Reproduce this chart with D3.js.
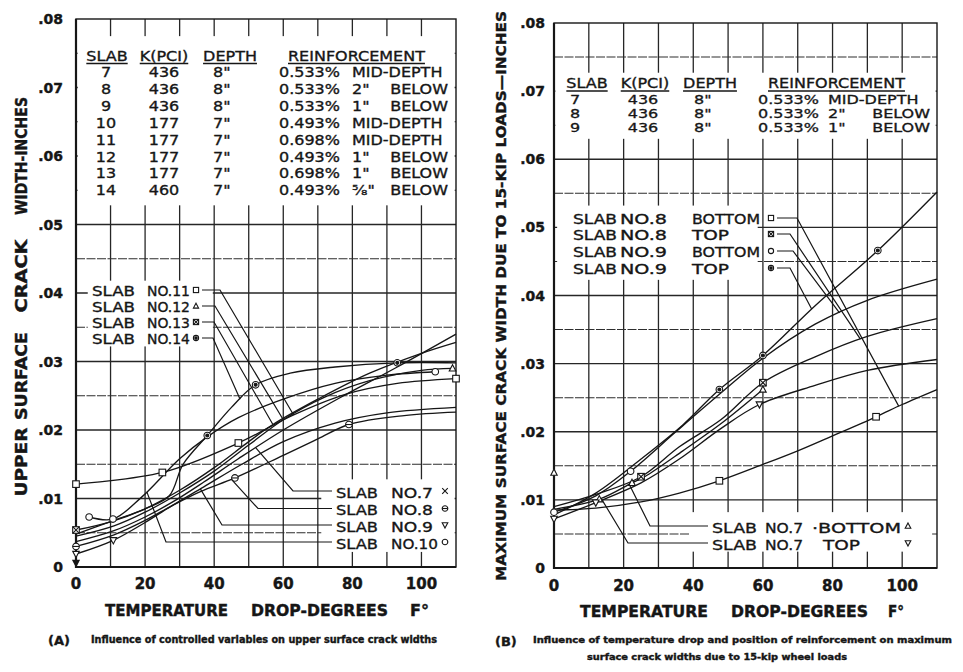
<!DOCTYPE html>
<html><head><meta charset="utf-8">
<script src="https://cdn.jsdelivr.net/npm/d3@7"></script>
<style>
body{margin:0;background:#fff;}
svg text{font-family:"DejaVu Sans",sans-serif;fill:#161616;stroke:#161616;stroke-width:0.4px;}
</style></head><body>
<svg id="fig" width="963" height="672"></svg>
<script>
// ---------------- data ----------------
const tempTicks = [0, 20, 40, 60, 80, 100];
const widthTicks = [0, 0.01, 0.02, 0.03, 0.04, 0.05, 0.06, 0.07, 0.08];
const widthTickLabels = ["0", ".01", ".02", ".03", ".04", ".05", ".06", ".07", ".08"];

// slab properties table
const tableHeader = ["SLAB", "K(PCI)", "DEPTH", "REINFORCEMENT"];
const tableSlab = ["7", "8", "9", "10", "11", "12", "13", "14"];
const tableK = ["436", "436", "436", "177", "177", "177", "177", "460"];
const tableDepth = ['8"', '8"', '8"', '7"', '7"', '7"', '7"', '7"'];
const tablePct = ["0.533%", "0.533%", "0.533%", "0.493%", "0.698%", "0.493%", "0.698%", "0.493%"];
const tablePosA = ["MID-DEPTH", '2"', '1"', "MID-DEPTH", "MID-DEPTH", '1"', '1"', '\u2075\u2044\u2088"'];
const tablePosB = ["", "BELOW", "BELOW", "", "", "BELOW", "BELOW", "BELOW"];

// (A) upper surface crack width vs temperature drop  [temp F, width in]
const upper7  = [[0,.0037],[11,.0053],[20,.0073],[28,.0095],[37,.0124],[47,.0158],[60,.0200],[76,.0246],[93,.0292],[110,.0340]];
const upper8  = [[0,.0030],[11,.0047],[20,.0068],[28,.0090],[36,.0110],[46,.0130],[60,.0163],[70,.0187],[79,.0208],[95,.0221],[110,.0226]];
const upper9  = [[0,.0019],[10.8,.0039],[20,.0065],[27,.0087],[37,.0117],[48,.0150],[60,.0183],[75,.0210],[90,.0225],[110,.0233]];
const upper10 = [[3.8,.0073],[10.7,.0070],[19,.0102],[30,.0158],[38,.0190],[47,.0218],[60,.0245],[75,.0268],[90,.0280],[104,.0285]];
const upper11 = [[0,.0121],[25,.0138],[47,.0181],[63,.0222],[78,.0252],[93,.0268],[110,.0275]];
const upper12 = [[0,.0045],[11,.0060],[20,.0080],[30,.0108],[40,.0140],[50,.0178],[60,.0215],[72,.0248],[85,.0272],[100,.0287],[109,.0290]];
const upper13 = [[0,.0054],[10,.0066],[20,.0085],[30,.0112],[40,.0145],[50,.0183],[57,.0208],[70,.0245],[85,.0283],[100,.0312],[110,.0328]];
const upper14 = [[0,.0048],[11,.0068],[20,.0085],[27,.0104],[31,.0150],[38,.0192],[45,.0233],[52,.0266],[62,.0283],[75,.0292],[93,.0298],[110,.0298]];
const upperMarks7 = [], upperMarks8 = [0, 46, 79], upperMarks9 = [0, 10.8], upperMarks10 = [3.8, 10.7, 104];
const upperMarks11 = [0, 25, 47, 110], upperMarks12 = [109], upperMarks13 = [0], upperMarks14 = [38, 52, 93];
const upperExtra = [[0, .0006]];   // isolated reading, slab 9

// (B) maximum surface crack width under 15-kip loads
const max7Bottom = [[0,.0086],[13,.0101],[22.4,.0125],[26,.0134],[37,.0172],[48,.0212],[60,.0262]];
const max7Top    = [[0,.0072],[12,.0096],[25,.0125],[36,.0160],[48,.0205],[59,.0240],[75,.0268],[90,.0290],[110,.0306]];
const max8Bottom = [[0,.0085],[12,.0088],[25,.0097],[36,.0110],[47.5,.0128],[60,.0152],[70,.0172],[80,.0194],[92.5,.0222],[100,.0240],[110,.0262]];
const max8Top    = [[0,.0090],[12,.0108],[25,.0134],[36,.0178],[48,.0218],[60,.0272],[75,.0310],[90,.0340],[110,.0366]];
const max9Bottom = [[0,.0082],[12,.0106],[22,.0142],[35,.0200],[47.5,.0255],[60,.0308],[75,.0358],[90,.0393],[110,.0424]];
const max9Top    = [[0,.0078],[12,.0110],[25,.0160],[37,.0210],[47.5,.0262],[60,.0312],[75,.0385],[93,.0466],[110,.0552]];
const maxMarks7Bottom = [13, 22.4, 60], maxMarks7Top = [0, 12, 59], maxMarks8Bottom = [47.5, 92.5];
const maxMarks8Top = [25, 60], maxMarks9Bottom = [0, 22], maxMarks9Top = [47.5, 60, 93];
const maxExtra = [[0, .0140]];     // isolated reading, slab 7 bottom

// leader targets (temperature at which each label's leader meets its curve)
const upperLeadTempsA = [63, 60, 57, 47.5];   // slabs 11-14
const upperLeadTempsB = [52, 45, 36, 20.5];   // slabs 7-10
const maxLeadTempsA = [99, 88, 82, 74];       // 8 bottom, 8 top, 9 bottom, 9 top
const maxLeadTempsB = [21.6, 13.8];           // 7 bottom, 7 top

// ---------------- drawing ----------------
const svg = d3.select("#fig");
const ink = "#161616";

function interp(pts, t) {
  for (let i = 0; i < pts.length - 1; i++) {
    const [x0, y0] = pts[i], [x1, y1] = pts[i + 1];
    if (t >= x0 && t <= x1) return y0 + (y1 - y0) * (t - x0) / (x1 - x0);
  }
  return pts[pts.length - 1][1];
}

function drawMarker(g, type, cx, cy, r) {
  const m = g.append("g").attr("transform", `translate(${cx},${cy})`)
    .attr("fill", "#fff").attr("stroke", ink).attr("stroke-width", 1.1);
  if (type === "square" || type === "xsquare") {
    m.append("rect").attr("x", -r).attr("y", -r).attr("width", 2 * r).attr("height", 2 * r);
    if (type === "xsquare") {
      m.append("path").attr("d", `M${-r},${-r}L${r},${r}M${r},${-r}L${-r},${r}`);
    }
  } else if (type === "circle" || type === "dotcircle" || type === "barcircle") {
    m.append("circle").attr("r", r);
    if (type === "dotcircle") m.append("circle").attr("r", r * 0.45).attr("fill", ink);
    if (type === "barcircle") m.append("path").attr("d", `M${-r},0L${r},0`);
  } else if (type === "tri") {
    m.append("path").attr("d", `M0,${-r * 1.1}L${r},${r * 0.8}L${-r},${r * 0.8}Z`);
  } else if (type === "tridown" || type === "filltri") {
    m.append("path").attr("d", `M0,${r * 1.1}L${r},${-r * 0.8}L${-r},${-r * 0.8}Z`)
      .attr("fill", type === "filltri" ? ink : "#fff");
  } else if (type === "cross") {
    m.append("path").attr("d", `M${-r},${-r}L${r},${r}M${r},${-r}L${-r},${r}`);
  }
}

function panel(cfg) {
  const { x, y, masks, series, extras } = cfg;
  const g = svg.append("g");
  // grid: every 10 degrees, every .005 inch
  const grid = g.append("g");
  d3.range(1, 11).forEach(i => {
    grid.append("line").attr("x1", x(i * 10)).attr("x2", x(i * 10))
      .attr("y1", y(0.08)).attr("y2", y(0))
      .attr("stroke", "#262626").attr("stroke-width", 1.3);
  });
  d3.range(1, 16).forEach(i => {
    const v = i * 0.005, major = i % 2 === 0;
    grid.append("line").attr("x1", x(0)).attr("x2", x(110))
      .attr("y1", y(v)).attr("y2", y(v))
      .attr("stroke", major ? "#262626" : "#2e2e2e")
      .attr("stroke-width", major ? 1.3 : 1.1)
      .attr("stroke-dasharray", major ? null : "9,1.5");
  });
  // blank areas behind the table and labels
  masks.forEach(m => {
    g.append("rect").attr("x", x(m.x0)).attr("y", y(m.y1))
      .attr("width", x(m.x1) - x(m.x0)).attr("height", y(m.y0) - y(m.y1))
      .attr("fill", "#fff");
  });
  // frame
  g.append("rect").attr("x", x(0)).attr("y", y(0.08))
    .attr("width", x(110) - x(0)).attr("height", y(0) - y(0.08))
    .attr("fill", "none").attr("stroke", ink).attr("stroke-width", 1.4);
  g.append("path").attr("d", `M${x(0)},${y(0.08)}L${x(0)},${y(0)}L${x(110)},${y(0)}`)
    .attr("fill", "none").attr("stroke", ink).attr("stroke-width", 2.2);
  // curves
  const line = d3.line().x(d => x(d[0])).y(d => y(d[1])).curve(d3.curveCatmullRom.alpha(0.5));
  series.forEach(s => {
    g.append("path").attr("d", line(s.pts)).attr("fill", "none")
      .attr("stroke", ink).attr("stroke-width", 1.35);
  });
  series.forEach(s => {
    s.marks.forEach(t => {
      const p = s.pts.find(d => d[0] === t);
      if (p) drawMarker(g, s.sym, x(p[0]), y(p[1]), 3.3);
    });
  });
  extras.forEach(e => drawMarker(g, e.sym, x(e.pt[0]), y(e.pt[1]), 3.2));
  // axis labels
  tempTicks.forEach(t => {
    g.append("text").attr("x", x(t)).attr("y", cfg.xLabelY).attr("text-anchor", "middle")
      .attr("font-size", 15).attr("font-weight", "bold").text(t);
  });
  widthTicks.forEach((v, i) => {
    g.append("text").attr("x", cfg.yLabelX).attr("y", y(v) + 5).attr("text-anchor", "end")
      .attr("font-size", 14).attr("font-weight", "bold").text(widthTickLabels[i]);
  });
  return g;
}

function txt(g, x, y, s, size, anchor, len) {
  const t = g.append("text").attr("x", x).attr("y", y).attr("font-size", size)
    .attr("text-anchor", anchor || "start").text(s);
  if (len) t.attr("textLength", len).attr("lengthAdjust", "spacingAndGlyphs");
  return t;
}
// text squeezed vertically, for the tightly spaced rows
function stxt(g, x, y, s, size, anchor, sy, len) {
  const t = g.append("text").attr("transform", `translate(${x},${y}) scale(1,${sy})`)
    .attr("font-size", size).attr("text-anchor", anchor || "start").text(s);
  if (len) t.attr("textLength", len).attr("lengthAdjust", "spacingAndGlyphs");
  return t;
}

function leader(g, pts) {
  g.append("path").attr("d", d3.line()(pts)).attr("fill", "none")
    .attr("stroke", ink).attr("stroke-width", 1.2);
}

// slab table
function table(g, o, nRows) {
  const hdrX = [o.c0, o.c1, o.c2, o.c3];
  tableHeader.forEach((h, i) => {
    const t = stxt(g, hdrX[i], o.hy, h, 16, i === 3 ? "start" : "middle", o.hsy);
    const len = t.node().getComputedTextLength();
    const x0 = i === 3 ? hdrX[i] : hdrX[i] - len / 2;
    g.append("line").attr("x1", x0).attr("x2", x0 + len).attr("y1", o.hy + 3).attr("y2", o.hy + 3)
      .attr("stroke", ink).attr("stroke-width", 1.3);
  });
  for (let r = 0; r < nRows; r++) {
    const yy = o.ry + r * o.rs;
    stxt(g, o.s, yy, tableSlab[r], o.fs, "middle", o.sy);
    stxt(g, o.k, yy, tableK[r], o.fs, "middle", o.sy);
    stxt(g, o.d, yy, tableDepth[r], o.fs, "start", o.sy);
    stxt(g, o.p, yy, tablePct[r], o.fs, "start", o.sy);
    stxt(g, o.a, yy, tablePosA[r], o.fs, "start", o.sy);
    if (tablePosB[r]) stxt(g, o.b, yy, tablePosB[r], o.fs, "end", o.sy);
  }
}

const legSy = 0.86;

// ---------- (A) ----------
const xA = d3.scaleLinear().domain([0, 110]).range([76, 456]);
const yA = d3.scaleLinear().domain([0, 0.08]).range([567, 19]);
const seriesA = [
  { slab: "7", sym: "cross", pts: upper7, marks: upperMarks7 },
  { slab: "8", sym: "barcircle", pts: upper8, marks: upperMarks8 },
  { slab: "9", sym: "tridown", pts: upper9, marks: upperMarks9 },
  { slab: "10", sym: "circle", pts: upper10, marks: upperMarks10 },
  { slab: "11", sym: "square", pts: upper11, marks: upperMarks11 },
  { slab: "12", sym: "tri", pts: upper12, marks: upperMarks12 },
  { slab: "13", sym: "xsquare", pts: upper13, marks: upperMarks13 },
  { slab: "14", sym: "dotcircle", pts: upper14, marks: upperMarks14 }
];
const gA = panel({
  x: xA, y: yA, series: seriesA, xLabelY: 589, yLabelX: 63,
  extras: upperExtra.map(p => ({ sym: "filltri", pt: p })),
  masks: [
    { x0: 0.5, x1: 109.6, y0: 0.0528, y1: 0.0775 },
    { x0: 3.4, x1: 39.6, y0: 0.0322, y1: 0.0418 },
    { x0: 71, x1: 109.6, y0: 0.0022, y1: 0.0128 }
  ]
});
table(gA, { c0: 107, c1: 164, c2: 230, c3: 288, hy: 60.5, hsy: 0.9, s: 106, k: 164, d: 213, p: 279, a: 352, b: 448, ry: 77, rs: 16.9, fs: 16, sy: 0.86 }, 8);

// legend: slabs 11-14
const legAy = [290, 306, 322, 338], legAbend = [220, 215, 214, 213];
seriesA.slice(4).forEach((s, i) => {
  stxt(gA, 92, legAy[i] + 6, "SLAB", 16, "start", legSy, 43);
  stxt(gA, 147, legAy[i] + 6, "NO." + s.slab, 16, "start", legSy, 43);
  drawMarker(gA, s.sym, 196, legAy[i], 2.6);
  const t = upperLeadTempsA[i];
  leader(gA, [[202, legAy[i]], [legAbend[i], legAy[i]], [xA(t), yA(interp(s.pts, t))]]);
});
// legend: slabs 7-10
const legBy = [491, 508.5, 525, 542], legBbend = [293, 258, 222, 166];
seriesA.slice(0, 4).forEach((s, i) => {
  stxt(gA, 336, legBy[i] + 6.5, "SLAB", 17, "start", legSy, 42);
  stxt(gA, 391, legBy[i] + 6.5, "NO." + s.slab, 17, "start", legSy, s.slab.length > 1 ? 47 : 42);
  drawMarker(gA, s.sym, 445, legBy[i], 2.8);
  const t = upperLeadTempsB[i];
  leader(gA, [[332, legBy[i]], [legBbend[i], legBy[i]], [xA(t), yA(interp(s.pts, t))]]);
});

// axis titles (A)
[["UPPER", 462, 69], ["SURFACE", 376, 88], ["CRACK", 276, 73], ["WIDTH-INCHES", 156, 118]].forEach(([w, cy, len]) => {
  gA.append("text").attr("transform", `translate(27,${cy}) rotate(-90)`)
    .attr("text-anchor", "middle").attr("font-size", 16).attr("font-weight", "bold")
    .attr("textLength", len).attr("lengthAdjust", "spacingAndGlyphs").text(w);
});
[["TEMPERATURE", 105, 123], ["DROP-DEGREES", 251, 137], ["F\u00B0", 410, 19]].forEach(([w, x0, len]) => {
  txt(gA, x0, 616, w, 15, "start", len).attr("font-weight", "bold");
});
txt(gA, 48, 645, "(A)", 13).attr("font-weight", "bold");
txt(gA, 91, 643, "Influence of controlled variables on upper surface crack widths", 10, "start", 346)
  .attr("font-weight", "bold");

// ---------- (B) ----------
const xB = d3.scaleLinear().domain([0, 110]).range([554, 937]);
const yB = d3.scaleLinear().domain([0, 0.08]).range([568, 23]);
const seriesB = [
  { key: "8b", sym: "square", pts: max8Bottom, marks: maxMarks8Bottom },
  { key: "8t", sym: "xsquare", pts: max8Top, marks: maxMarks8Top },
  { key: "9b", sym: "circle", pts: max9Bottom, marks: maxMarks9Bottom },
  { key: "9t", sym: "dotcircle", pts: max9Top, marks: maxMarks9Top },
  { key: "7b", sym: "tri", pts: max7Bottom, marks: maxMarks7Bottom },
  { key: "7t", sym: "tridown", pts: max7Top, marks: maxMarks7Top }
];
const gB = panel({
  x: xB, y: yB, series: seriesB, xLabelY: 591, yLabelX: 545,
  extras: maxExtra.map(p => ({ sym: "tri", pt: p })),
  masks: [
    { x0: 0.4, x1: 109.6, y0: 0.0630, y1: 0.0727 },
    { x0: 0.9, x1: 58.5, y0: 0.0423, y1: 0.0532 },
    { x0: 38.8, x1: 108.6, y0: 0.0024, y1: 0.0082 }
  ]
});
table(gB, { c0: 587, c1: 645, c2: 710, c3: 768, hy: 88, hsy: 0.9, s: 575, k: 643, d: 694, p: 758, a: 828, b: 930, ry: 104, rs: 13.8, fs: 16, sy: 0.74 }, 3);

const legCy = [218, 234, 251, 268], legCbend = [797, 790, 793, 790];
const legCname = ["NO.8", "NO.8", "NO.9", "NO.9"], legCpos = ["BOTTOM", "TOP", "BOTTOM", "TOP"];
seriesB.slice(0, 4).forEach((s, i) => {
  stxt(gB, 573, legCy[i] + 6, "SLAB", 16, "start", legSy, 44);
  stxt(gB, 620, legCy[i] + 6, legCname[i], 16, "start", legSy, 47);
  stxt(gB, 692, legCy[i] + 6, legCpos[i], 16, "start", legSy, legCpos[i] === "TOP" ? 37 : 68);
  drawMarker(gB, s.sym, 771, legCy[i], 2.6);
  const t = maxLeadTempsA[i];
  leader(gB, [[777, legCy[i]], [legCbend[i], legCy[i]], [xB(t), yB(interp(s.pts, t))]]);
});
const legDy = [526, 543], legDbend = [650, 628], legDpos = ["\u00B7BOTTOM", "TOP"], legDx = [812, 823], legDlen = [89, 37];
seriesB.slice(4).forEach((s, i) => {
  stxt(gB, 712, legDy[i] + 6.5, "SLAB", 17, "start", legSy, 45);
  stxt(gB, 765, legDy[i] + 6.5, "NO.7", 17, "start", legSy, 38);
  stxt(gB, legDx[i], legDy[i] + 6.5, legDpos[i], 17, "start", legSy, legDlen[i]);
  drawMarker(gB, s.sym, 908, legDy[i], 2.8);
  const t = maxLeadTempsB[i];
  leader(gB, [[708, legDy[i]], [legDbend[i], legDy[i]], [xB(t), yB(interp(s.pts, t))]]);
});

gB.append("text").attr("transform", "translate(506,296) rotate(-90)")
  .attr("text-anchor", "middle").attr("font-size", 14).attr("font-weight", "bold")
  .attr("textLength", 570).attr("lengthAdjust", "spacingAndGlyphs")
  .text("MAXIMUM SURFACE CRACK WIDTH DUE TO 15-KIP LOADS\u2014INCHES");
[["TEMPERATURE", 580, 128], ["DROP-DEGREES", 731, 137], ["F\u00B0", 888, 16]].forEach(([w, x0, len]) => {
  txt(gB, x0, 617, w, 15, "start", len).attr("font-weight", "bold");
});
txt(gB, 495, 646, "(B)", 13).attr("font-weight", "bold");
txt(gB, 533, 643, "Influence of temperature drop and position of reinforcement on maximum", 9, "start", 419)
  .attr("font-weight", "bold");
txt(gB, 587, 660, "surface crack widths due to 15-kip wheel loads", 9, "start", 260)
  .attr("font-weight", "bold");
</script>
</body></html>
